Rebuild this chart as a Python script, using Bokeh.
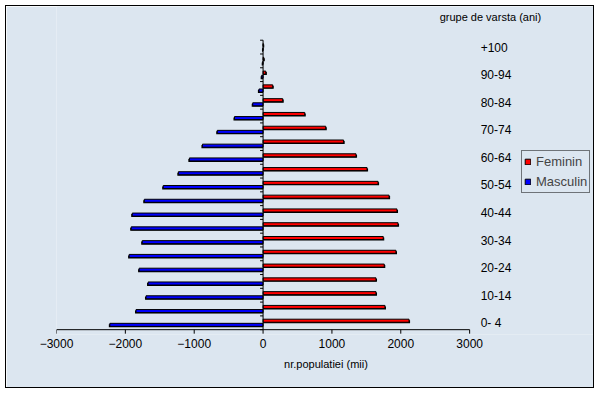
from bokeh.plotting import figure
from bokeh.models import Range1d, FixedTicker, Legend, LegendItem
from bokeh.core.properties import value
from bokeh.embed import file_html
from bokeh.resources import INLINE
import math

# ---- data ----
AGE_GROUPS = ["0- 4", "5-9", "10-14", "15-19", "20-24", "25-29", "30-34", "35-39",
              "40-44", "45-49", "50-54", "55-59", "60-64", "65-69", "70-74", "75-79",
              "80-84", "85-89", "90-94", "95-99", "+100"]
FEMININ = [2120, 1770, 1640, 1640, 1760, 1930, 1745, 1960, 1945, 1830, 1670,
           1510, 1350, 1170, 910, 605, 285, 140, 40, 10, 2]
MASCULIN = [2225, 1845, 1700, 1670, 1800, 1945, 1755, 1915, 1900, 1725, 1450,
            1230, 1070, 880, 665, 415, 150, 60, 20, 5, 1]
X_TICKS = [-3000, -2000, -1000, 0, 1000, 2000, 3000]
X_MIN, X_MAX = -3000, 3000
TITLE_TEXT = "grupe de varsta (ani)"
X_LABEL = "nr.populatiei (mii)"
SERIES = ["Feminin", "Masculin"]

BG = "#dce6f0"
FONT = "Liberation Sans"

n = len(AGE_GROUPS)
centers = [i + 0.5 for i in range(n)]
y_fem = [c + 0.15 for c in centers]
y_masc = [c - 0.15 for c in centers]
BAR_H = 0.22
SH_DY = 0.07   # shadow offset (about 1px)
SH_DX = 15

# layout: canvas 587x381, frame spans from the value axis start to the canvas right edge
W, H = 587, 381
AXIS_PX = 411.6            # pixel length of the -3000..3000 axis
CAT_PX = 13.7              # pixel height of one age group
FRAME_L, FRAME_B = 50, 55
frame_w = W - FRAME_L
frame_h = H - FRAME_B
x_end = X_MIN + frame_w * (X_MAX - X_MIN) / AXIS_PX
y_start = -0.35
y_end = y_start + frame_h / CAT_PX

p = figure(width=W, height=H, output_backend="svg", toolbar_location=None,
           title=None,
           x_range=Range1d(X_MIN, x_end), y_range=Range1d(y_start, y_end),
           y_axis_location=None, min_border_left=FRAME_L, min_border_right=0,
           min_border_top=0, min_border_bottom=FRAME_B)
p.styles = {"margin": "5px 0px 0px 5px", "border": "1px solid black",
            "width": f"{W}px", "box-sizing": "content-box"}
p.background_fill_color = BG
p.border_fill_color = BG
p.outline_line_color = None
p.xgrid.visible = False
p.ygrid.visible = False

# shadows
p.hbar(y=[y - SH_DY for y in y_fem], left=0, right=[v + SH_DX for v in FEMININ],
       height=BAR_H, fill_color="black", line_color=None)
p.hbar(y=[y - SH_DY for y in y_masc], left=[-(v + SH_DX) for v in MASCULIN], right=0,
       height=BAR_H, fill_color="black", line_color=None)

r_f = p.hbar(y=y_fem, left=0, right=FEMININ, height=BAR_H,
             fill_color="#ff0000", line_color="black", line_width=1)
r_m = p.hbar(y=y_masc, left=[-v for v in MASCULIN], right=0, height=BAR_H,
             fill_color="#0000ff", line_color="black", line_width=1)

# vertical category axis at x = 0, ticks at group boundaries
bounds = list(range(n + 1))
p.segment(x0=0, y0=0, x1=0, y1=n, line_color="black", line_width=1)
p.ray(x=[0] * len(bounds), y=bounds, length=3, length_units="screen",
      angle=math.pi, line_color="black", line_width=1)

# horizontal value axis line and ticks
p.segment(x0=X_MIN, y0=0, x1=X_MAX, y1=0, line_color="black", line_width=1)
p.ray(x=X_TICKS, y=[0] * len(X_TICKS), length=4, length_units="screen",
      angle=-math.pi / 2, line_color="black", line_width=1)

# bottom axis: labels only
xa = p.xaxis[0]
xa.ticker = FixedTicker(ticks=X_TICKS)
xa.axis_line_color = None
xa.major_tick_line_color = None
xa.minor_tick_line_color = None
xa.major_tick_in = 0
xa.major_tick_out = 0
xa.major_label_standoff = 4
xa.major_label_text_font = FONT
xa.major_label_text_font_size = "12px"
xa.major_label_text_color = "black"
xa.axis_label = X_LABEL
xa.axis_label_text_font = FONT
xa.axis_label_text_font_size = "11px"
xa.axis_label_text_font_style = "normal"
xa.axis_label_text_color = "black"
xa.axis_label_standoff = 7

# right-side age group labels (every second group)
lab_idx = list(range(0, n, 2))
p.text(x=[X_MAX] * len(lab_idx), y=[centers[i] for i in lab_idx],
       text=[AGE_GROUPS[i] for i in lab_idx], x_offset=11,
       text_align="left", text_baseline="middle", text_color="black",
       text_font=value(FONT), text_font_size="12px")

# title at top right
p.text(x=[X_MAX], y=[y_end], text=[TITLE_TEXT], x_offset=-30, y_offset=10.5,
       text_align="left", text_baseline="middle", text_color="black",
       text_font=value(FONT), text_font_size="11px")

legend = Legend(items=[LegendItem(label=SERIES[0], renderers=[r_f]),
                       LegendItem(label=SERIES[1], renderers=[r_m])],
                location=(465, 141), margin=0, padding=2, spacing=3,
                glyph_width=7, glyph_height=7, label_height=17, label_standoff=5,
                label_text_font=FONT, label_text_font_size="13px",
                border_line_color="black", border_line_width=1,
                background_fill_alpha=0)
p.add_layout(legend, "center")

open("out.html", "w").write(file_html(p, INLINE))
